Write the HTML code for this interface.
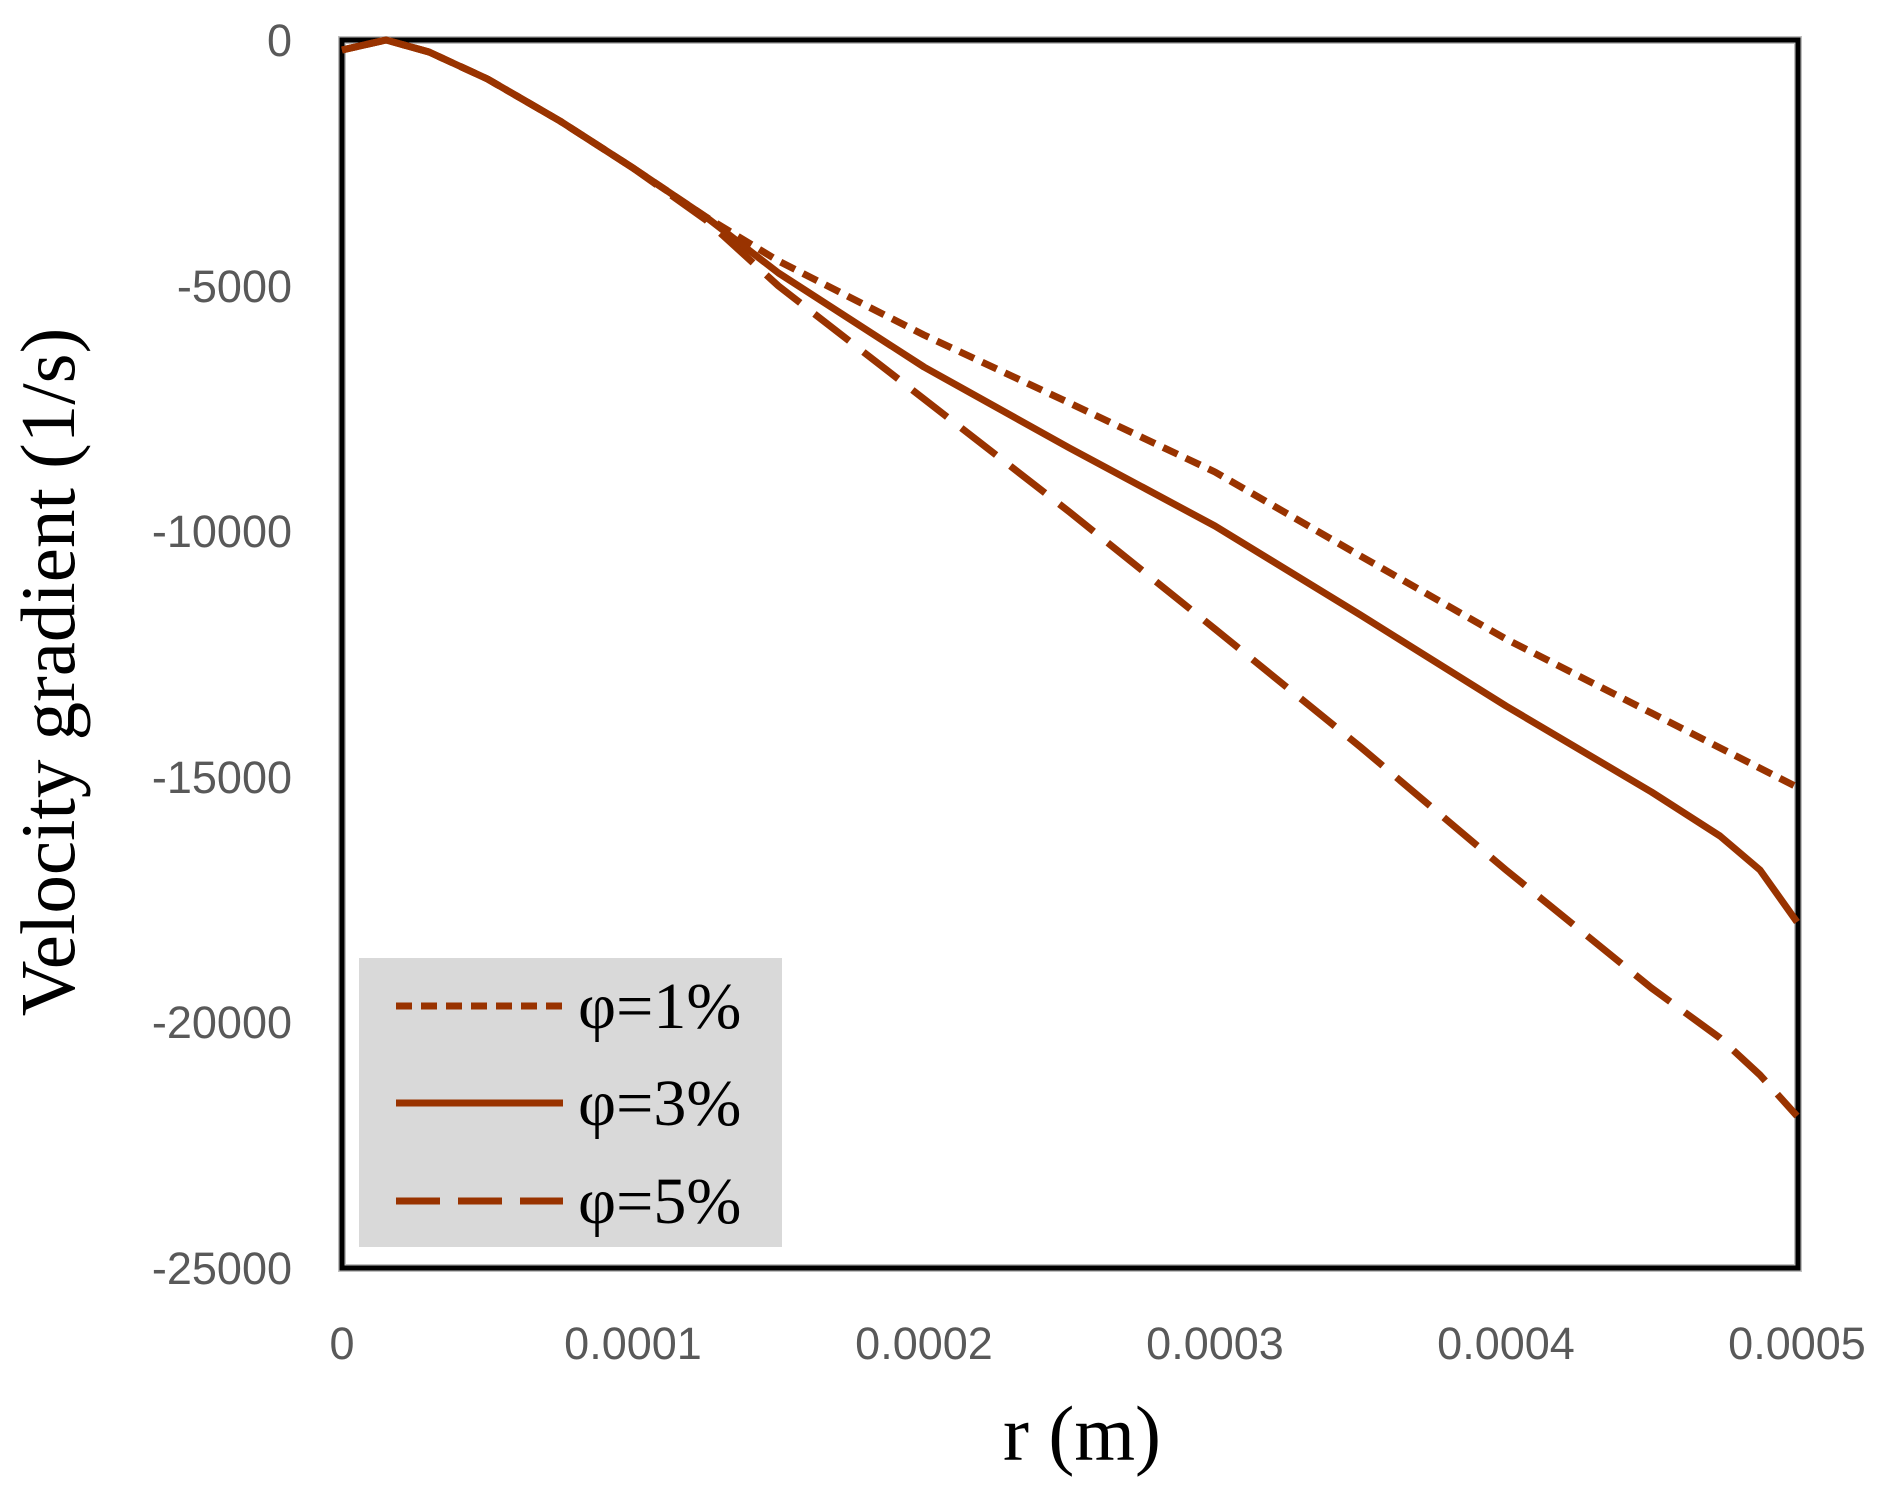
<!DOCTYPE html>
<html><head><meta charset="utf-8"><style>
html,body{margin:0;padding:0;background:#fff;}
svg{display:block;}
</style></head><body>
<svg width="1895" height="1495" viewBox="0 0 1895 1495" xmlns="http://www.w3.org/2000/svg">
<rect x="0" y="0" width="1895" height="1495" fill="#fff"/>
<rect x="342" y="40" width="1456" height="1228" fill="none" stroke="#bfbfbf" stroke-width="8"/>
<rect x="342" y="40" width="1456" height="1228" fill="none" stroke="#000" stroke-width="5"/>
<g font-family="Liberation Sans, sans-serif" font-size="45" fill="#595959" text-anchor="end" textLength="0">
<text x="292" y="56">0</text>
<text x="292" y="302">-5000</text>
<text x="292" y="547">-10000</text>
<text x="292" y="793">-15000</text>
<text x="292" y="1038">-20000</text>
<text x="292" y="1284">-25000</text>
</g>
<g font-family="Liberation Sans, sans-serif" font-size="45" fill="#595959" text-anchor="middle">
<text x="342" y="1359">0</text>
<text x="633" y="1359">0.0001</text>
<text x="924" y="1359">0.0002</text>
<text x="1215" y="1359">0.0003</text>
<text x="1506" y="1359">0.0004</text>
<text x="1797" y="1359">0.0005</text>
</g>
<text x="1082" y="1460" font-family="Liberation Serif, serif" font-size="78" text-anchor="middle" fill="#000">r (m)</text>
<text transform="translate(74,672) rotate(-90)" font-family="Liberation Serif, serif" font-size="77" text-anchor="middle" fill="#000">Velocity gradient (1/s)</text>
<g fill="none" stroke="#993300" stroke-width="7" stroke-linejoin="round">
<polyline stroke-dasharray="16 9" points="342,50 386,40 429,52 487.5,79 560,121 633,168 706,217 778.5,261 924,335 1069.5,403 1215,472 1360.5,556 1506,639 1651.5,713 1797,787"/>
<polyline points="342,50 386,40 429,52 487.5,79 560,121 633,168 706,217 778.5,273 924,367 1069.5,448 1215,526 1360.5,615 1506,706 1651.5,792 1720,836 1760,870 1797,922"/>
<polyline stroke-dasharray="44 18" points="342,50 386,40 429,52 487.5,79 560,121 633,168 706,220 778.5,286 924,399 1069.5,512 1215,629 1360.5,747 1506,870 1651.5,988 1720,1038 1760,1075 1797,1116"/>
</g>
<rect x="359" y="958" width="423" height="289" fill="#d9d9d9"/>
<g fill="none" stroke="#993300" stroke-width="7">
<line x1="396" y1="1006" x2="563" y2="1006" stroke-dasharray="16 9"/>
<line x1="396" y1="1103" x2="563" y2="1103"/>
<line x1="396" y1="1201" x2="563" y2="1201" stroke-dasharray="44 18"/>
</g>
<g font-family="Liberation Serif, serif" font-size="66" fill="#000">
<text x="578" y="1028">φ=1%</text>
<text x="578" y="1125">φ=3%</text>
<text x="578" y="1223">φ=5%</text>
</g>
</svg>
</body></html>
